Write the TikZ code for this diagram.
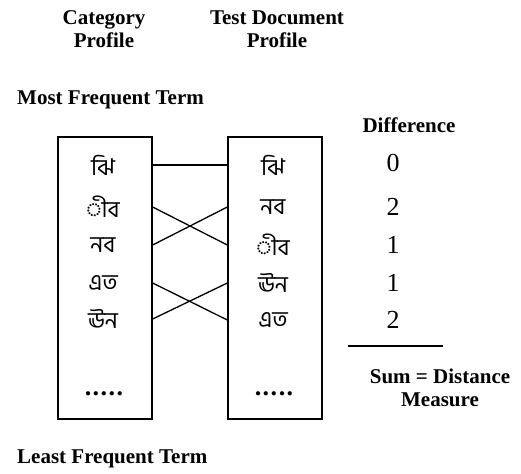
\documentclass[tikz,border=0pt]{standalone}
\usepackage{fontspec}
\setmainfont{Liberation Serif}
\newfontfamily\bnfont[Script=Bengali]{Hind Siliguri}
\newcommand{\fivedots}{.\kern1.5pt.\kern1.5pt.\kern1.5pt.\kern1.5pt.}
\begin{document}
\begin{tikzpicture}[x=1pt,y=-1pt,
  box/.style={draw, line width=1.3pt, minimum width=94pt, minimum height=282pt, inner sep=0pt},
  head/.style={font=\bfseries\fontsize{21}{23}\selectfont, align=center, inner sep=0pt},
  word/.style={font=\bnfont\fontsize{23}{25}\selectfont, inner sep=0pt},
  num/.style={font=\fontsize{26}{28}\selectfont, inner sep=0pt},
  dotsty/.style={font=\bfseries\fontsize{26}{28}\selectfont, inner sep=0pt},
  link/.style={line width=1.3pt}]
\useasboundingbox (0,0) rectangle (521,473);
\node[head] (cat) at (104,29) {Category\\Profile};
\node[head] (tdp) at (277,29) {Test Document\\Profile};
\node[head, anchor=west] (most) at (17,100) {Most Frequent Term};
\node[head, anchor=west] (least) at (17,459) {Least Frequent Term};
\node[head] (diff) at (409,125) {Difference};
\node[box] (lbox) at (105,278) {};
\node[box] (rbox) at (275,278) {};
\node[word] (l1) at (103,165) {ঝি};
\node[word] (l2) at (103,207) {◌ীব};
\node[word] (l3) at (103,245) {নব};
\node[word] (l4) at (103,283) {এত};
\node[word] (l5) at (103,319) {ঊন};
\node[dotsty] (ld) at (104,394) {\fivedots};
\node[word] (r1) at (273,165) {ঝি};
\node[word] (r2) at (273,207) {নব};
\node[word] (r3) at (273,245) {◌ীব};
\node[word] (r4) at (273,283) {ঊন};
\node[word] (r5) at (273,320) {এত};
\node[dotsty] (rd) at (274,394) {\fivedots};
\node[num] (d1) at (393,163) {0};
\node[num] (d2) at (393,207) {2};
\node[num] (d3) at (393,245) {1};
\node[num] (d4) at (393,283) {1};
\node[num] (d5) at (393,320) {2};
\coordinate (s1) at (348,346);
\coordinate (s2) at (443,346);
\draw[line width=1.2pt] (s1) -- (s2);
\node[head] (sum) at (440,388) {Sum = Distance\\Measure};
\draw[link] (lbox.east |- l1) -- (rbox.west |- r1);
\draw[link] (lbox.east |- l2) -- (rbox.west |- r3);
\draw[link] (lbox.east |- l3) -- (rbox.west |- r2);
\draw[link] (lbox.east |- l4) -- (rbox.west |- r5);
\draw[link] (lbox.east |- l5) -- (rbox.west |- r4);
\end{tikzpicture}
\end{document}
